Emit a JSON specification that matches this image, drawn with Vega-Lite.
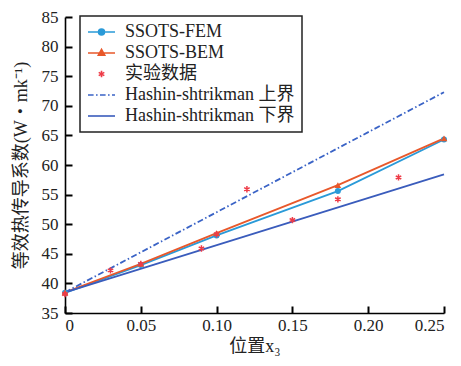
{
  "$schema": "https://vega.github.io/schema/vega-lite/v6.json",
  "width": 379,
  "height": 296,
  "autosize": {"type": "none"},
  "padding": {"left": 65, "top": 17, "right": 17, "bottom": 53},
  "background": "white",
  "config": {
    "font": "Liberation Serif, Noto Sans CJK SC",
    "view": {"stroke": null},
    "axis": {"grid": false, "domainColor": "#000", "domainWidth": 1.6, "labelColor": "#222", "titleColor": "#222", "labelFont": "Liberation Serif", "labelFontSize": 17, "titleFontSize": 18, "titleFontWeight": "normal", "titleFont": "Liberation Serif, Noto Sans CJK SC"}
  },
  "data": {"values": [
    {"series": "SSOTS-FEM", "x": 0, "y": 38.4},
    {"series": "SSOTS-FEM", "x": 0.05, "y": 43.1},
    {"series": "SSOTS-FEM", "x": 0.1, "y": 48.1},
    {"series": "SSOTS-FEM", "x": 0.18, "y": 55.6},
    {"series": "SSOTS-FEM", "x": 0.25, "y": 64.3},
    {"series": "SSOTS-BEM", "x": 0, "y": 38.5},
    {"series": "SSOTS-BEM", "x": 0.05, "y": 43.3},
    {"series": "SSOTS-BEM", "x": 0.1, "y": 48.5},
    {"series": "SSOTS-BEM", "x": 0.18, "y": 56.6},
    {"series": "SSOTS-BEM", "x": 0.25, "y": 64.5},
    {"series": "实验数据", "x": 0, "y": 38.2},
    {"series": "实验数据", "x": 0.03, "y": 42.2},
    {"series": "实验数据", "x": 0.05, "y": 43.3},
    {"series": "实验数据", "x": 0.09, "y": 45.9},
    {"series": "实验数据", "x": 0.1, "y": 48.3},
    {"series": "实验数据", "x": 0.12, "y": 55.9},
    {"series": "实验数据", "x": 0.15, "y": 50.7},
    {"series": "实验数据", "x": 0.18, "y": 54.2},
    {"series": "实验数据", "x": 0.22, "y": 57.9},
    {"series": "Hashin-shtrikman 上界", "x": 0, "y": 38.5},
    {"series": "Hashin-shtrikman 上界", "x": 0.25, "y": 72.3},
    {"series": "Hashin-shtrikman 下界", "x": 0, "y": 38.5},
    {"series": "Hashin-shtrikman 下界", "x": 0.25, "y": 58.4}
  ]},
  "encoding": {
    "x": {"field": "x", "type": "quantitative", "scale": {"domain": [0, 0.25], "nice": false},
      "axis": {"values": [0, 0.05, 0.1, 0.15, 0.2, 0.25], "ticks": true, "tickSize": -7, "tickWidth": 2, "tickColor": "#000", "labelPadding": 11, "labelExpr": "datum.value == 0 ? '0' : format(datum.value, '.2f')", "title": "位置x₃", "titlePadding": 4}},
    "y": {"field": "y", "type": "quantitative", "scale": {"domain": [35, 85], "nice": false, "zero": false},
      "axis": {"values": [35, 40, 45, 50, 55, 60, 65, 70, 75, 80, 85], "ticks": true, "tickSize": -7, "tickWidth": 2, "tickColor": "#000", "labelPadding": 14, "title": "等效热传导系数(W・mk⁻¹)", "titlePadding": 11}},
    "color": {"field": "series", "type": "nominal",
      "scale": {"domain": ["SSOTS-FEM", "SSOTS-BEM", "实验数据", "Hashin-shtrikman 上界", "Hashin-shtrikman 下界"],
        "range": ["#2a9ad8", "#e8582b", "#ee3b47", "#3a63c6", "#3a5cbc"]},
      "legend": {
        "title": null, "orient": "none", "legendX": 15, "legendY": -1,
        "strokeColor": "#222", "padding": 7, "fillColor": "white",
        "symbolSize": 256, "symbolStrokeWidth": 1.6, "labelFontSize": 18, "labelLimit": 400, "labelFont": "Liberation Serif, Noto Sans CJK SC", "labelColor": "#222",
        "rowPadding": 3, "labelOffset": 20, "symbolOpacity": 1,
        "encode": {
          "legend": {"update": {"strokeWidth": {"value": 1.5}}},
          "symbols": {"update": {
          "shape": {"signal": "datum.value == 'SSOTS-FEM' ? 'M-1,0L2.375,0M1.06,0A0.37,0.37 0 1,1 0.32,0A0.37,0.37 0 1,1 1.06,0Z' : datum.value == 'SSOTS-BEM' ? 'M-1,0L2.375,0M0.69,-0.45L1.09,0.27L0.29,0.27Z' : datum.value == '实验数据' ? 'M0.69,-0.4L0.69,0.4M0.34,-0.2L1.04,0.2M0.34,0.2L1.04,-0.2' : datum.value == 'Hashin-shtrikman 上界' ? 'M-1,0L-0.3,0M0,0L0.2,0M0.5,0L1.2,0M1.5,0L1.7,0M2,0L2.375,0' : 'M-1,0L2.375,0'"},
          "fill": {"signal": "datum.value == 'SSOTS-FEM' ? '#2a9ad8' : datum.value == 'SSOTS-BEM' ? '#e8582b' : 'transparent'"},
          "strokeDash": {"value": []}
        }}}
      }
    }
  },
  "layer": [
    {"transform": [{"filter": "datum.series == 'Hashin-shtrikman 下界' || datum.series == 'SSOTS-FEM' || datum.series == 'SSOTS-BEM'"}],
      "mark": {"type": "line", "strokeWidth": 1.8}},
    {"transform": [{"filter": "datum.series == 'Hashin-shtrikman 上界'"}],
      "mark": {"type": "line", "strokeWidth": 1.8, "strokeDash": [6, 2.5, 1.5, 2.5]}},
    {"transform": [{"filter": "datum.series == 'SSOTS-FEM'"}],
      "mark": {"type": "point", "shape": "circle", "filled": true, "size": 36, "opacity": 1}},
    {"transform": [{"filter": "datum.series == 'SSOTS-BEM'"}],
      "mark": {"type": "point", "shape": "triangle-up", "filled": true, "size": 45, "opacity": 1}},
    {"transform": [{"filter": "datum.series == '实验数据'"}],
      "mark": {"type": "point", "shape": "M0,-1L0,1M-0.87,-0.5L0.87,0.5M-0.87,0.5L0.87,-0.5", "filled": false, "size": 40, "strokeWidth": 1.5, "opacity": 1}}
  ]
}
